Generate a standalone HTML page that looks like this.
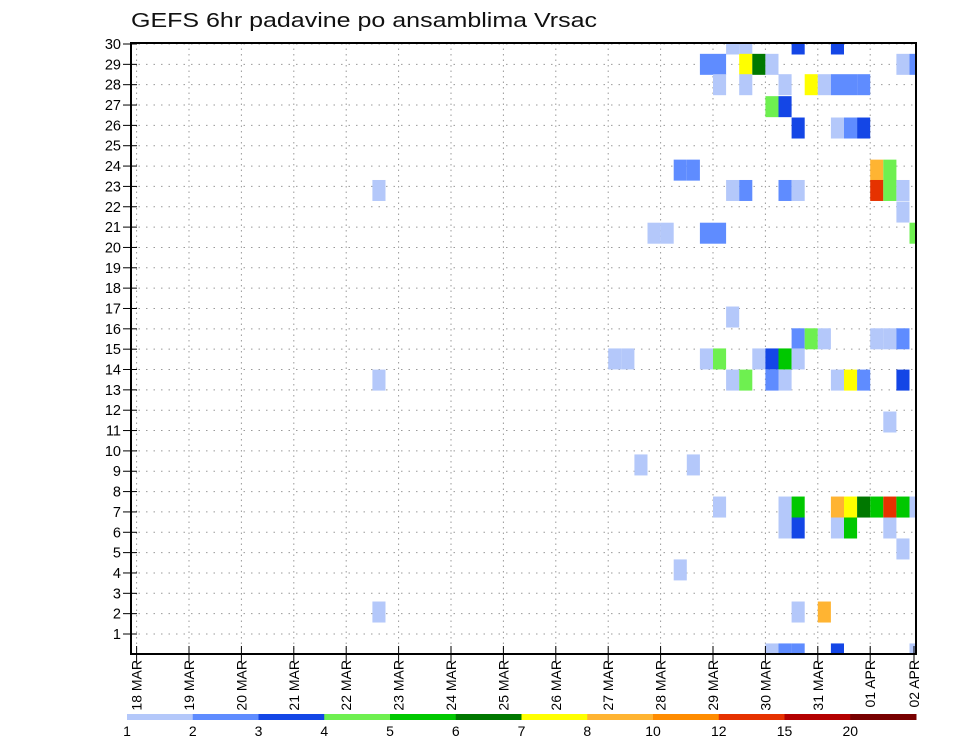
<!DOCTYPE html>
<html><head><meta charset="utf-8"><style>
html,body{margin:0;padding:0;background:#fff;}
svg{display:block;font-family:"Liberation Sans",sans-serif;}
</style></head><body>
<svg id="chart" width="960" height="742" viewBox="0 0 960 742" xmlns="http://www.w3.org/2000/svg">
<defs><clipPath id="plotclip"><rect x="131" y="43" width="785" height="611"/></clipPath></defs>
<rect x="0" y="0" width="960" height="742" fill="#fff"/>
<text x="131" y="27" font-size="20" textLength="466" lengthAdjust="spacingAndGlyphs" fill="#111">GEFS 6hr padavine po ansamblima Vrsac</text>
<g id="grid"></g>
<g id="cells" clip-path="url(#plotclip)"></g>
<rect x="131" y="43" width="785" height="611" fill="none" stroke="#000" stroke-width="2"/>
<g id="yaxis"></g>
<g id="xaxis"></g>
<g id="colorbar"></g>
</svg>
<script>
const dayLabels = ["18 MAR","19 MAR","20 MAR","21 MAR","22 MAR","23 MAR","24 MAR","25 MAR","26 MAR","27 MAR","28 MAR","29 MAR","30 MAR","31 MAR","01 APR","02 APR"];
const memberTicks = [1,2,3,4,5,6,7,8,9,10,11,12,13,14,15,16,17,18,19,20,21,22,23,24,25,26,27,28,29,30];
const levelLabels = ["1","2","3","4","5","6","7","8","10","12","15","20"];
const levelColors = ["#b4c8fa","#5f8cff","#1446e6","#6ef050","#00c800","#007800","#ffff00","#ffb432","#ff8c00","#e63200","#b40000","#780000"];
// row positions (member axis units) and cells [6h step index, level index]
const rowPos = [30.0,29.0,28.0,26.92,25.87,23.8,22.8,21.74,20.7,16.58,15.51,14.52,13.48,11.42,9.31,7.24,6.21,5.18,4.15,2.08,0.02];
const rowCells = [
 [[45,0],[46,0],[50,2],[53,2]],
 [[43,1],[44,1],[46,6],[47,5],[48,0],[58,0],[59,1]],
 [[44,0],[46,0],[49,0],[51,6],[52,0],[53,1],[54,1],[55,1]],
 [[48,3],[49,2]],
 [[50,2],[53,0],[54,1],[55,2]],
 [[41,1],[42,1],[56,7],[57,3]],
 [[18,0],[45,0],[46,1],[49,1],[50,0],[56,9],[57,3],[58,0]],
 [[58,0]],
 [[39,0],[40,0],[43,1],[44,1],[59,3]],
 [[45,0]],
 [[50,1],[51,3],[52,0],[56,0],[57,0],[58,1]],
 [[36,0],[37,0],[43,0],[44,3],[47,0],[48,2],[49,4],[50,0]],
 [[18,0],[45,0],[46,3],[48,1],[49,0],[53,0],[54,6],[55,1],[58,2]],
 [[57,0]],
 [[38,0],[42,0]],
 [[44,0],[49,0],[50,4],[53,7],[54,6],[55,5],[56,4],[57,9],[58,4],[59,0]],
 [[49,0],[50,2],[53,0],[54,4],[57,0]],
 [[58,0]],
 [[41,0]],
 [[18,0],[50,0],[52,7]],
 [[48,0],[49,1],[50,1],[53,2],[59,0]]
];
const NS="http://www.w3.org/2000/svg";
const X0=136.6, DAYW=52.4, STEPW=DAYW/4;
function xDay(d){return X0+d*DAYW;}
function xStep(s){return X0+s*STEPW;}
function yM(m){return 634-(m-1)*20.345;}
function mk(tag,attrs,parent){const e=document.createElementNS(NS,tag);for(const k in attrs)e.setAttribute(k,attrs[k]);parent.appendChild(e);return e;}
const grid=document.getElementById('grid');
memberTicks.forEach(m=>{
 const l=mk('line',{x1:131,x2:916,y1:yM(m),y2:yM(m),stroke:'#999','stroke-width':1,'stroke-dasharray':'1.5 6'},grid);
 
 
});
dayLabels.forEach((d,i)=>{
 const x=xDay(i); if(x>916) return;
 const l=mk('line',{x1:x,x2:x,y1:43,y2:654,stroke:'#999','stroke-width':1,'stroke-dasharray':'1.5 4'},grid);
 
 
});
const cells=document.getElementById('cells');
rowPos.forEach((u,ri)=>{
 rowCells[ri].forEach(c=>{
  const x1=xStep(c[0]), x2=xStep(c[0]+1), yc=yM(u);
  const r=mk('rect',{x:x1,y:yc-10.5,width:x2-x1,height:21,fill:levelColors[c[1]]},cells);
  
  
 });
});
const ya=document.getElementById('yaxis');
memberTicks.forEach(m=>{
 const t=mk('line',{x1:123,x2:137,y1:yM(m),y2:yM(m),stroke:'#000','stroke-width':1},ya);
 
 
 const tx=mk('text',{x:121,y:yM(m)+5,'font-size':14.5,'text-anchor':'end',fill:'#000'},ya);
 tx.textContent=m;
 
 
});
const xa=document.getElementById('xaxis');
dayLabels.forEach((d,i)=>{
 let x=xDay(i); if(x>916) x=914;
 const t=mk('line',{x1:x,x2:x,y1:646,y2:662,stroke:'#000','stroke-width':1},xa);
 
 
 const tx=mk('text',{x:0,y:0,'font-size':14,'text-anchor':'end',fill:'#000',transform:'translate('+(x+5)+',660) rotate(-90)'},xa);
 tx.textContent=d;
 
 
});
const cb=document.getElementById('colorbar');
const CB0=127, CBW=(916-127)/levelColors.length;
levelColors.forEach((c,i)=>{
 const r=mk('rect',{x:CB0+i*CBW,y:714,width:CBW+0.5,height:6,fill:c},cb);
 
 
});
levelLabels.forEach((l,i)=>{
 const tx=mk('text',{x:CB0+i*CBW,y:736,'font-size':14,'text-anchor':'middle',fill:'#000'},cb);
 tx.textContent=l;
 
 
});
</script>
</body></html>
